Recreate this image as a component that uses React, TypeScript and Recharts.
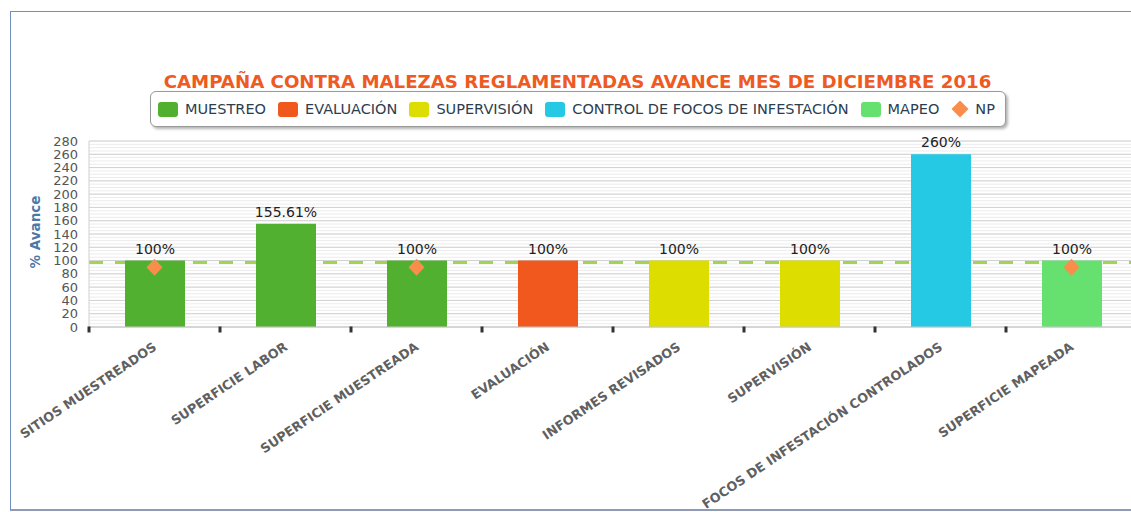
import React from 'react';
import { ComposedChart, Bar, Line, XAxis, YAxis, CartesianGrid, LabelList } from 'recharts';

const categories = [
  'SITIOS MUESTREADOS',
  'SUPERFICIE LABOR',
  'SUPERFICIE MUESTREADA',
  'EVALUACIÓN',
  'INFORMES REVISADOS',
  'SUPERVISIÓN',
  'FOCOS DE INFESTACIÓN CONTROLADOS',
  'SUPERFICIE MAPEADA',
];

const muestreo = [100, 155.61, 100, null, null, null, null, null];
const evaluacion = [null, null, null, 100, null, null, null, null];
const supervision = [null, null, null, null, 100, 100, null, null];
const control = [null, null, null, null, null, null, 260, null];
const mapeo = [null, null, null, null, null, null, null, 100];
const np = [90, null, 90, null, null, null, null, 90];

const yTicks = [0, 20, 40, 60, 80, 100, 120, 140, 160, 180, 200, 220, 240, 260, 280];
const minorTicks = Array.from({ length: 57 }, (_, i) => i * 5);
const goal = [100];

const series = [
  { key: 'muestreo', name: 'MUESTREO', color: '#52b030' },
  { key: 'evaluacion', name: 'EVALUACIÓN', color: '#f0581e' },
  { key: 'supervision', name: 'SUPERVISIÓN', color: '#dddd00' },
  { key: 'control', name: 'CONTROL DE FOCOS DE INFESTACIÓN', color: '#26c9e3' },
  { key: 'mapeo', name: 'MAPEO', color: '#66e06e' },
];
const npColor = '#f98e4c';

const data = categories.map((name, i) => ({
  name,
  muestreo: muestreo[i],
  evaluacion: evaluacion[i],
  supervision: supervision[i],
  control: control[i],
  mapeo: mapeo[i],
  np: np[i],
}));

const CHART_W = 1140;
const MARGIN = { top: 141, right: 3, bottom: 125, left: 29 };
const Y_W = 60;
const PLOT_W = CHART_W - MARGIN.left - MARGIN.right - Y_W;
const BAND = PLOT_W / categories.length;
const FONT = '"DejaVu Sans", Verdana, sans-serif';

const XTick = (props: any) => {
  const { x, y, payload } = props;
  const bx = x - BAND / 2;
  const tx = x + 3;
  const ty = y + 22;
  return (
    <g>
      <rect x={bx - 1.5} y={y - 0.5} width={3} height={6} fill="#333" />
      <text
        x={tx}
        y={ty}
        textAnchor="end"
        transform={`rotate(-34, ${tx}, ${ty})`}
        fontFamily={FONT}
        fontWeight="bold"
        fontSize={12.8}
        fill="#606060"
      >
        {payload.value}
      </text>
    </g>
  );
};

const BarLabel = (p: any) => {
  let v = p.value;
  if (Array.isArray(v)) v = v[1] - v[0];
  if (v == null || !v) return null;
  const shown = Math.round(v * 100) / 100;
  return (
    <text x={p.x + p.width / 2} y={p.y - 7} textAnchor="middle" fontFamily={FONT} fontSize={14} fill="#222">
      {`${shown}%`}
    </text>
  );
};

const Diamond = (p: any) => {
  const { cx, cy, index } = p;
  if (np[index] == null || cy == null || isNaN(cy)) return <g key={index} />;
  return (
    <polygon
      key={index}
      points={`${cx},${cy - 8.5} ${cx + 8},${cy} ${cx},${cy + 8.5} ${cx - 8},${cy}`}
      fill={npColor}
    />
  );
};

// goal line sits just under the bar tops, as in the original
const GoalLine = (p: any) => (
  <line
    key={p.key}
    x1={p.x1}
    x2={p.x2}
    y1={p.y1 + 2}
    y2={p.y2 + 2}
    stroke="#9fd64e"
    strokeWidth={3}
    strokeDasharray="14 12"
  />
);

const LegendBox = () => (
  <div
    style={{
      position: 'absolute',
      left: 150,
      top: 91,
      width: 856,
      height: 36,
      border: '1.5px solid #9a9a9a',
      borderRadius: 6,
      boxShadow: '2px 2px 3px rgba(0,0,0,0.3)',
      background: '#fff',
      display: 'flex',
      alignItems: 'center',
      paddingLeft: 7,
      boxSizing: 'border-box',
      fontFamily: FONT,
      fontSize: 14.5,
      color: '#2b3e50',
      whiteSpace: 'nowrap',
    }}
  >
    {series.map((s) => (
      <span key={s.key} style={{ display: 'flex', alignItems: 'center', marginRight: 12 }}>
        <span style={{ width: 20, height: 15, borderRadius: 3, background: s.color, marginRight: 7 }} />
        {s.name}
      </span>
    ))}
    <span style={{ display: 'flex', alignItems: 'center' }}>
      <svg width={18} height={18} style={{ marginRight: 6 }}>
        <polygon points="9,0.5 17.5,9 9,17.5 0.5,9" fill={npColor} />
      </svg>
      NP
    </span>
  </div>
);

export default function App() {
  return (
    <div style={{ position: 'absolute', left: 0, top: 0, width: 1131, height: 512, overflow: 'hidden', background: '#fff' }}>
      <div
        style={{
          position: 'absolute',
          left: 10,
          top: 11,
          width: 1140,
          height: 497,
          borderTop: '1px solid #7090c0',
          borderLeft: '1px solid #7090c0',
          borderBottom: '2px solid #909ab5',
        }}
      />
      <div
        style={{
          position: 'absolute',
          left: 0,
          width: 1155,
          top: 70,
          textAlign: 'center',
          fontFamily: FONT,
          fontWeight: 'bold',
          fontSize: 18.2,
          color: '#ee5a22',
          lineHeight: '24px',
        }}
      >
        CAMPAÑA CONTRA MALEZAS REGLAMENTADAS AVANCE MES DE DICIEMBRE 2016
      </div>
      <LegendBox />
      <div
        style={{
          position: 'absolute',
          left: 35,
          top: 232,
          transform: 'translate(-50%, -50%) rotate(-90deg)',
          fontFamily: FONT,
          fontWeight: 'bold',
          fontSize: 13.5,
          color: '#4a78a8',
          whiteSpace: 'nowrap',
        }}
      >
        % Avance
      </div>
      <div style={{ position: 'absolute', left: 0, top: 0 }}>
        <ComposedChart width={CHART_W} height={512} data={data} margin={MARGIN} barCategoryGap={0}>
          <CartesianGrid vertical={false} stroke="#ececec" horizontalValues={minorTicks} />
          <CartesianGrid vertical={false} stroke="#d2d2d2" horizontalValues={yTicks} />
          <CartesianGrid vertical={false} horizontal={(p: any) => <GoalLine {...p} />} horizontalValues={goal} />
          <XAxis
            dataKey="name"
            interval={0}
            height={60}
            tickLine={false}
            tickSize={0}
            tickMargin={0}
            axisLine={{ stroke: '#c8c8c8' }}
            tick={<XTick />}
          />
          <YAxis
            width={Y_W}
            domain={[0, 280]}
            ticks={yTicks}
            interval={0}
            tickLine={false}
            tickSize={0}
            tickMargin={11}
            axisLine={{ stroke: '#d0d0d0' }}
            tick={{ fontFamily: FONT, fontSize: 13, fill: '#555' }}
          />
          {series.map((s) => (
            <Bar key={s.key} dataKey={s.key} name={s.name} stackId="a" fill={s.color} barSize={60} isAnimationActive={false}>
              <LabelList dataKey={s.key} content={<BarLabel />} />
            </Bar>
          ))}
          <Line dataKey="np" name="NP" stroke="none" dot={<Diamond />} activeDot={false} isAnimationActive={false} />
        </ComposedChart>
      </div>
    </div>
  );
}
